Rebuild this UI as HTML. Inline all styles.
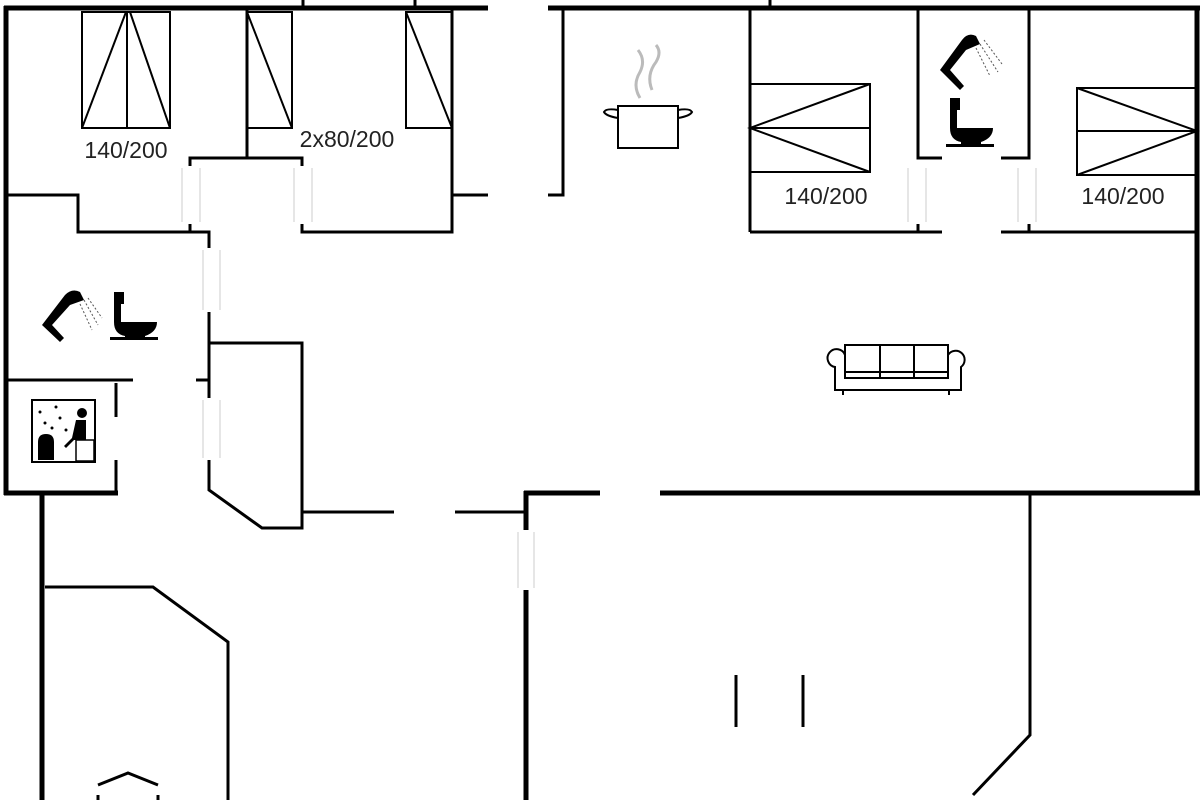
<!DOCTYPE html>
<html><head><style>html,body{margin:0;padding:0;background:#fff;}svg{display:block}</style></head>
<body>
<svg width="1200" height="800" viewBox="0 0 1200 800" xmlns="http://www.w3.org/2000/svg">
<g stroke="#000" fill="none" stroke-linecap="butt">
<g stroke-width="5">
<line x1="4" y1="8" x2="488" y2="8"/>
<line x1="548" y1="8" x2="1200" y2="8"/>
<line x1="6" y1="6" x2="6" y2="495"/>
<line x1="1197" y1="6" x2="1197" y2="493"/>
<line x1="4" y1="493" x2="118" y2="493"/>
<line x1="42" y1="491" x2="42" y2="800"/>
<line x1="524" y1="493" x2="600" y2="493"/>
<line x1="660" y1="493" x2="1200" y2="493"/>
<line x1="526" y1="491" x2="526" y2="530"/>
<line x1="526" y1="590" x2="526" y2="800"/>
</g>
<g stroke-width="3">
<line x1="303" y1="0" x2="303" y2="8"/>
<line x1="415" y1="0" x2="415" y2="8"/>
<line x1="770" y1="0" x2="770" y2="8"/>
<line x1="247" y1="10" x2="247" y2="158"/>
<polyline points="190,166 190,158 302,158 302,166"/>
<polyline points="452,10 452,232 302,232 302,224"/>
<line x1="452" y1="195" x2="488" y2="195"/>
<polyline points="563,10 563,195 548,195"/>
<polyline points="6,195 78,195 78,232 209,232 209,248"/>
<line x1="190" y1="224" x2="190" y2="232"/>
<line x1="209" y1="312" x2="209" y2="398"/>
<line x1="196" y1="380" x2="209" y2="380"/>
<polyline points="209,460 209,490 262,528 302,528 302,343 209,343"/>
<line x1="6" y1="380" x2="133" y2="380"/>
<line x1="116" y1="383" x2="116" y2="417"/>
<line x1="116" y1="460" x2="116" y2="493"/>
<line x1="302" y1="512" x2="394" y2="512"/>
<line x1="455" y1="512" x2="526" y2="512"/>
<polyline points="45,587 153,587 228,642 228,800"/>
<polyline points="1030,493 1030,735 973,795"/>
<line x1="736" y1="675" x2="736" y2="727"/>
<line x1="803" y1="675" x2="803" y2="727"/>
<line x1="750" y1="10" x2="750" y2="232"/>
<line x1="750" y1="232" x2="942" y2="232"/>
<line x1="1001" y1="232" x2="1197" y2="232"/>
<polyline points="918,10 918,158 942,158"/>
<polyline points="1001,158 1029,158 1029,10"/>
<line x1="918" y1="224" x2="918" y2="232"/>
<line x1="1029" y1="224" x2="1029" y2="232"/>
<polyline points="98,785 128,773 158,785"/>
<line x1="98" y1="795" x2="98" y2="800"/><line x1="158" y1="795" x2="158" y2="800"/>
</g>
<g stroke="#ccc" stroke-width="1">
<line x1="182" y1="168" x2="182" y2="222"/><line x1="200" y1="168" x2="200" y2="222"/>
<line x1="294" y1="168" x2="294" y2="222"/><line x1="312" y1="168" x2="312" y2="222"/>
<line x1="203" y1="250" x2="203" y2="310"/><line x1="220" y1="250" x2="220" y2="310"/>
<line x1="203" y1="400" x2="203" y2="458"/><line x1="220" y1="400" x2="220" y2="458"/>
<line x1="518" y1="532" x2="518" y2="588"/><line x1="534" y1="532" x2="534" y2="588"/>
<line x1="908" y1="168" x2="908" y2="222"/><line x1="926" y1="168" x2="926" y2="222"/>
<line x1="1018" y1="168" x2="1018" y2="222"/><line x1="1036" y1="168" x2="1036" y2="222"/>
</g>
<g stroke-width="2">
<rect x="82" y="12" width="88" height="116"/>
<line x1="127" y1="12" x2="127" y2="128"/>
<line x1="82" y1="128" x2="126" y2="12"/><line x1="130" y1="12" x2="170" y2="128"/>
<rect x="247" y="12" width="45" height="116"/>
<line x1="247" y1="12" x2="292" y2="128"/>
<rect x="406" y="12" width="46" height="116"/>
<line x1="406" y1="12" x2="452" y2="128"/>
<rect x="750" y="84" width="120" height="88"/>
<line x1="750" y1="128" x2="870" y2="128"/>
<polyline points="870,84 750,128 870,172"/>
<rect x="1077" y="88" width="120" height="87"/>
<line x1="1077" y1="131" x2="1197" y2="131"/>
<polyline points="1077,88 1197,131 1077,175"/>
</g>
<g stroke-width="2">
<rect x="845" y="345" width="103" height="33"/>
<line x1="880" y1="345" x2="880" y2="378"/><line x1="914" y1="345" x2="914" y2="378"/>
<line x1="845" y1="372" x2="948" y2="372"/>
<path d="M845,355 A9,9 0 1 0 835,367 L835,390 L961,390 L961,367 A9,9 0 1 0 948,355"/>
<line x1="843" y1="390" x2="843" y2="395"/><line x1="949" y1="390" x2="949" y2="395"/>
</g>
<g stroke-width="2">
<rect x="618" y="106" width="60" height="42"/>
<path d="M618,110 Q606,108 604,112 Q606,116 618,118"/>
<path d="M678,110 Q690,108 692,112 Q690,116 678,118"/>
</g>
<g stroke="#bbb" stroke-width="3">
<path d="M640,98 Q632,85 640,72 Q646,60 638,50"/>
<path d="M652,90 Q646,75 656,62 Q662,52 656,45"/>
</g>
<rect x="32" y="400" width="63" height="62" stroke-width="2"/>
<rect x="76" y="440" width="18" height="21" stroke-width="1.5"/>
</g>
<g fill="#000">
<path d="M42,325 L65,295 Q72,288 80,292 L84,300 L70,305 L52,325 L64,338 L60,342 Z"/>
<path d="M114,292 h10 v12 h-3 v18 h36 q0,10 -12,14 v4 h-20 v-4 q-11,-2 -11,-14 z"/>
<rect x="110" y="337" width="48" height="3"/>
<path d="M940,70 L962,40 Q968,32 976,36 L980,44 L966,50 L950,70 L964,86 L960,90 Z"/>
<path d="M950,98 h10 v12 h-3 v18 h36 q0,10 -12,14 v4 h-20 v-4 q-11,-2 -11,-14 z"/>
<rect x="946" y="144" width="48" height="3"/>
<path d="M38,460 v-18 q0,-8 8,-8 q8,0 8,8 v18 z"/>
<circle cx="82" cy="413" r="5"/>
<path d="M76,420 h10 v20 h-12 l-8,8 -2,-2 8,-8 z"/>
<circle cx="40" cy="412" r="1.5"/><circle cx="56" cy="407" r="1.5"/><circle cx="45" cy="423" r="1.5"/>
<circle cx="60" cy="418" r="1.5"/><circle cx="52" cy="428" r="1.5"/><circle cx="66" cy="430" r="1.5"/>
</g>
<g stroke="#555" stroke-width="1" stroke-dasharray="2,2" fill="none">
<line x1="84" y1="300" x2="98" y2="325"/><line x1="88" y1="298" x2="102" y2="318"/><line x1="80" y1="304" x2="92" y2="330"/>
<line x1="980" y1="44" x2="998" y2="72"/><line x1="984" y1="40" x2="1002" y2="64"/><line x1="976" y1="48" x2="990" y2="76"/>
</g>
<g font-family="Liberation Sans, sans-serif" font-size="23" fill="#222" text-anchor="middle">
<text x="126" y="158">140/200</text>
<text x="347" y="147">2x80/200</text>
<text x="826" y="204">140/200</text>
<text x="1123" y="204">140/200</text>
</g>
</svg>
</body></html>
